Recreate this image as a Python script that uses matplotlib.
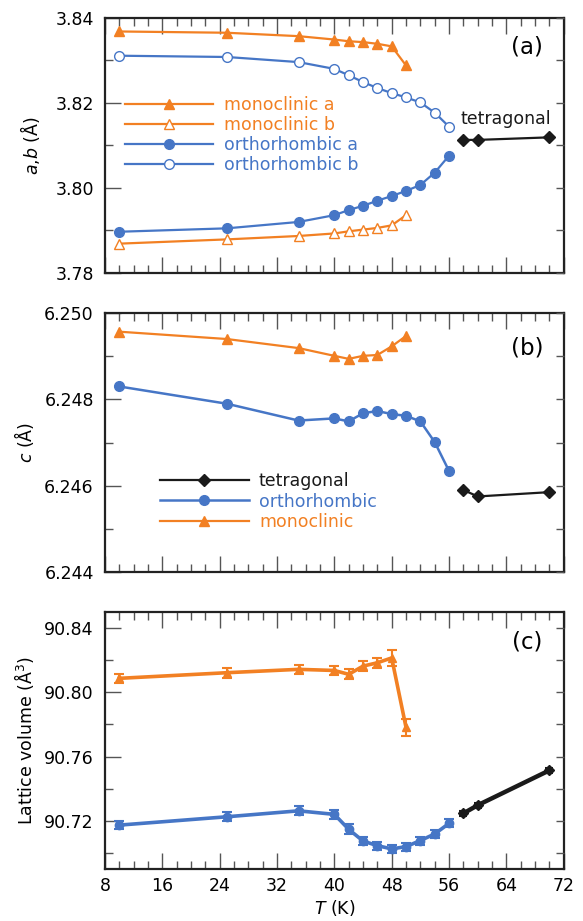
import numpy as np
import matplotlib
matplotlib.use('Agg')
import matplotlib.pyplot as plt
from matplotlib.ticker import MultipleLocator, FormatStrFormatter

# ============================================
# Data
# ============================================
T_mono = [10, 25, 35, 40, 42, 44, 46, 48, 50]
T_orth = [10, 25, 35, 40, 42, 44, 46, 48, 50, 52, 54, 56]
T_tet = [58, 60, 70]

# panel (a): a, b lattice params (Angstrom)
mono_a = [3.8368, 3.8365, 3.8357, 3.8349, 3.8345, 3.8343, 3.8339, 3.8333, 3.8288]
mono_b = [3.7869, 3.7879, 3.7887, 3.7893, 3.7898, 3.7902, 3.7906, 3.7912, 3.7936]
orth_a = [3.7897, 3.7905, 3.7920, 3.7936, 3.7948, 3.7958, 3.7970, 3.7981,
          3.7993, 3.8007, 3.8036, 3.8076]
orth_b = [3.8311, 3.8308, 3.8296, 3.8280, 3.8265, 3.8249, 3.8235, 3.8223,
          3.8213, 3.8201, 3.8177, 3.8144]
tet_a = [3.8113, 3.8113, 3.8119]

# panel (b): c lattice param
mono_c = [6.24957, 6.24940, 6.24919, 6.24901, 6.24894, 6.24901, 6.24903, 6.24923, 6.24947]
orth_c = [6.24830, 6.24790, 6.24751, 6.24756, 6.24749, 6.24768, 6.24773, 6.24766,
          6.24762, 6.24749, 6.24701, 6.24634]
tet_c = [6.24590, 6.24575, 6.24585]

# panel (c): lattice volume with error bars
mono_V = [90.8087, 90.8122, 90.8143, 90.8136, 90.8112, 90.8163, 90.8184, 90.8214, 90.7781]
mono_V_err = [0.003, 0.003, 0.003, 0.003, 0.003, 0.003, 0.003, 0.005, 0.005]
orth_V = [90.7173, 90.7225, 90.7262, 90.7240, 90.7147, 90.7074, 90.7045, 90.7025,
          90.7039, 90.7077, 90.7118, 90.7184]
orth_V_err = [0.0027, 0.0027, 0.0027, 0.003, 0.003, 0.0025, 0.0025, 0.0025,
              0.0025, 0.0025, 0.0025, 0.0025]
tet_V = [90.7246, 90.7297, 90.7514]
tet_V_err = [0.0015, 0.0015, 0.0015]

ORANGE = '#f28023'
BLUE = '#4676c6'
BLACK = '#1a1a1a'

plt.rcParams['font.family'] = 'DejaVu Sans'
plt.rcParams['font.size'] = 12.5
plt.rcParams['mathtext.fontset'] = 'dejavusans'


# ============================================
# Function: style one panel
# ============================================
def style_axes(ax, ylim, major, minor, fmt, show_x=False, label_x=-0.15):
    ax.set_xlim(8, 72)
    ax.set_ylim(*ylim)
    ax.xaxis.set_major_locator(MultipleLocator(8))
    ax.xaxis.set_minor_locator(MultipleLocator(2))
    ax.yaxis.set_major_locator(MultipleLocator(major))
    ax.yaxis.set_minor_locator(MultipleLocator(minor))
    ax.yaxis.set_major_formatter(FormatStrFormatter(fmt))
    for sp in ax.spines.values():
        sp.set_linewidth(1.6)
        sp.set_color('#222222')
    ax.tick_params(which='both', direction='in', top=True, right=False,
                   color='#555555', width=1.0, labelsize=12.5)
    ax.tick_params(which='major', length=11.5)
    ax.tick_params(which='minor', length=5.8)
    ax.tick_params(axis='y', pad=8)
    ax.tick_params(axis='x', pad=6)
    if not show_x:
        ax.tick_params(axis='x', labelbottom=False)

    # right-hand ticks are all short
    ax2 = ax.twinx()
    ax2.set_ylim(*ylim)
    ax2.yaxis.set_major_locator(MultipleLocator(minor))
    ax2.tick_params(axis='y', direction='in', length=5.8, width=1.0,
                    color='#555555', labelright=False)
    for sp in ax2.spines.values():
        sp.set_visible(False)
    ax.yaxis.set_label_coords(label_x, 0.5)


fig = plt.figure(figsize=(5.83, 9.21), dpi=100)
ax_a = fig.add_axes([0.180, 0.7036, 0.787, 0.277])
ax_b = fig.add_axes([0.180, 0.379, 0.787, 0.281])
ax_c = fig.add_axes([0.180, 0.0565, 0.787, 0.279])

# ===== Panel (a)
ax_a.plot(T_mono, mono_a, '-^', color=ORANGE, lw=1.6, ms=7, label='monoclinic a')
ax_a.plot(T_mono, mono_b, '-^', color=ORANGE, lw=1.6, ms=7, mfc='white',
          mec=ORANGE, mew=1.0, label='monoclinic b')
ax_a.plot(T_orth, orth_a, '-o', color=BLUE, lw=1.6, ms=7, label='orthorhombic a')
ax_a.plot(T_orth, orth_b, '-o', color=BLUE, lw=1.6, ms=7, mfc='white',
          mec=BLUE, mew=1.0, label='orthorhombic b')
ax_a.plot(T_tet, tet_a, '-D', color=BLACK, lw=1.6, ms=6)
ax_a.text(57.6, 3.8163, 'tetragonal', ha='left', va='center', fontsize=12.5, color=BLACK)
ax_a.text(0.92, 0.886, '(a)', transform=ax_a.transAxes, ha='center', va='center', fontsize=16.5)
ax_a.set_ylabel('$a$,$b$ (Å)', fontsize=12.5)
leg = ax_a.legend(loc='center left', bbox_to_anchor=(0.043, 0.54), frameon=False,
                  handlelength=5.1, handletextpad=0.6, labelspacing=0.12,
                  borderpad=0, borderaxespad=0, fontsize=12.5)
for txt, c in zip(leg.get_texts(), [ORANGE, ORANGE, BLUE, BLUE]):
    txt.set_color(c)
style_axes(ax_a, (3.78, 3.84), 0.02, 0.01, '%.2f', label_x=-0.138)

# ===== Panel (b)
ax_b.plot(T_tet, tet_c, '-D', color=BLACK, lw=1.6, ms=6, label='tetragonal')
ax_b.plot(T_orth, orth_c, '-o', color=BLUE, lw=1.8, ms=7, label='orthorhombic')
ax_b.plot(T_mono, mono_c, '-^', color=ORANGE, lw=1.6, ms=7, label='monoclinic')
ax_b.text(0.92, 0.865, '(b)', transform=ax_b.transAxes, ha='center', va='center', fontsize=16.5)
ax_b.set_ylabel('$c$ (Å)', fontsize=12.5)
leg = ax_b.legend(loc='center left', bbox_to_anchor=(0.12, 0.272), frameon=False,
                  handlelength=5.1, handletextpad=0.6, labelspacing=0.15,
                  borderpad=0, borderaxespad=0, fontsize=12.5)
for txt, c in zip(leg.get_texts(), [BLACK, BLUE, ORANGE]):
    txt.set_color(c)
style_axes(ax_b, (6.244, 6.250), 0.002, 0.001, '%.3f', label_x=-0.15)

# ===== Panel (c)
ax_c.errorbar(T_mono, mono_V, yerr=mono_V_err, fmt='-^', color=ORANGE, lw=2.6,
              ms=6, capsize=3.5, capthick=1.5, elinewidth=1.5)
ax_c.errorbar(T_orth, orth_V, yerr=orth_V_err, fmt='-o', color=BLUE, lw=2.6,
              ms=6, capsize=3.5, capthick=1.5, elinewidth=1.5)
ax_c.errorbar(T_tet, tet_V, yerr=tet_V_err, fmt='-D', color=BLACK, lw=3.2,
              ms=5, capsize=3, capthick=1.5, elinewidth=1.5)
ax_c.text(0.92, 0.883, '(c)', transform=ax_c.transAxes, ha='center', va='center', fontsize=16.5)
ax_c.set_ylabel('Lattice volume (Å$^3$)', fontsize=12.5)
ax_c.set_xlabel('$T$ (K)', fontsize=12.5, labelpad=2)
style_axes(ax_c, (90.69, 90.85), 0.04, 0.02, '%.2f', show_x=True, label_x=-0.15)

fig.savefig('out.png', dpi=100)
